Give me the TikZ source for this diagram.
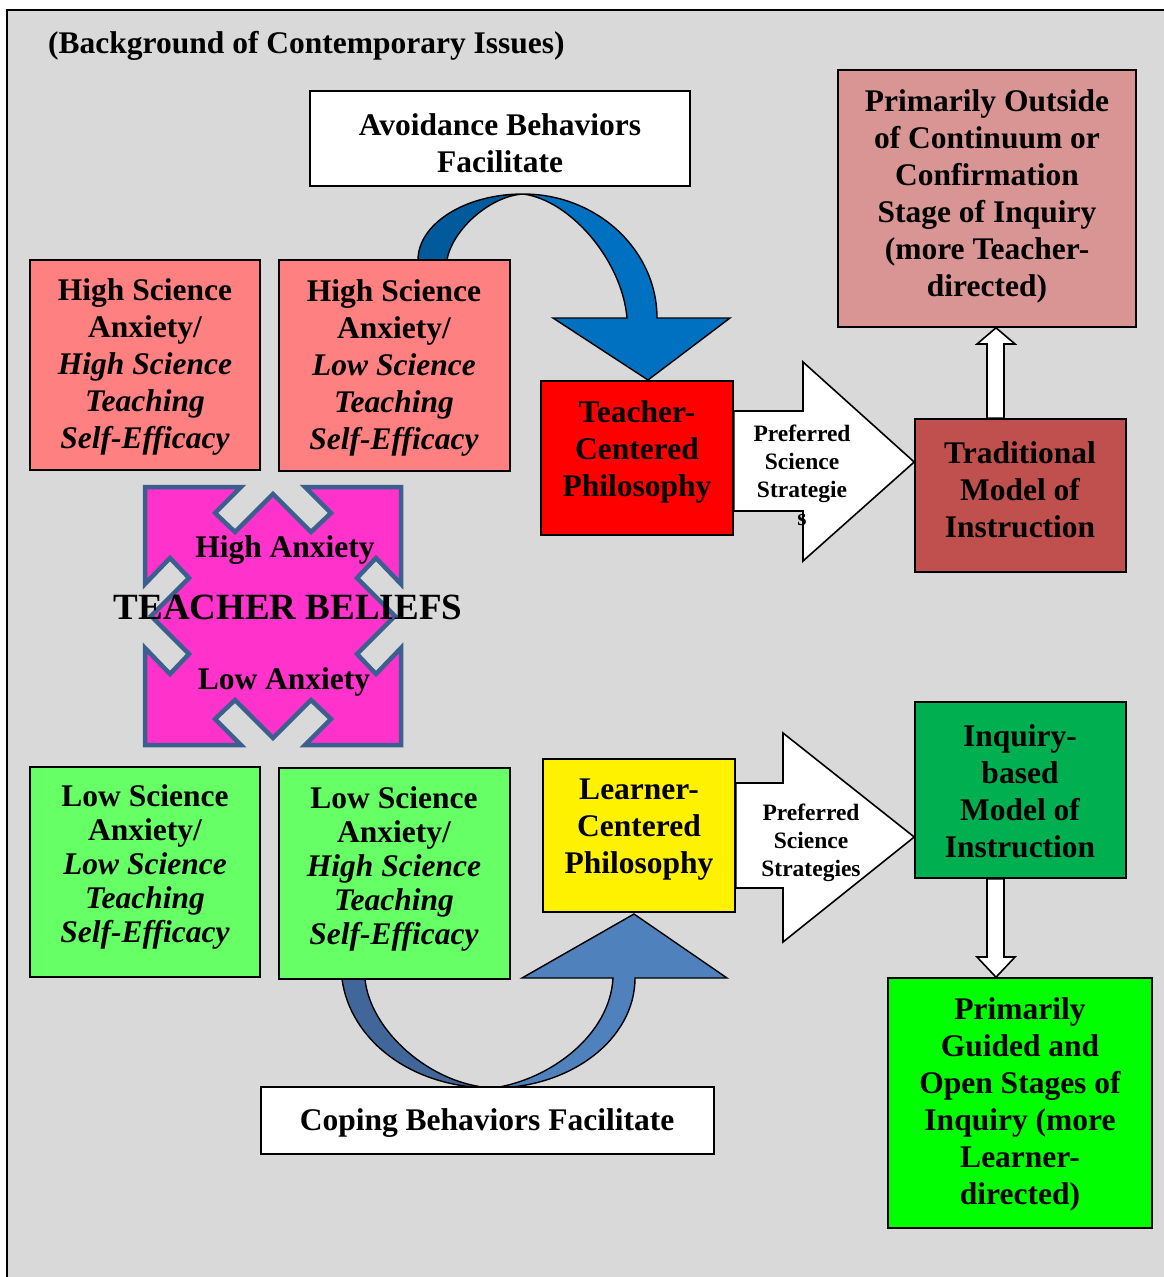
\documentclass[tikz,border=0pt]{standalone}
\usepackage{fontspec}
\setmainfont{Liberation Serif}
\usetikzlibrary{calc}

\definecolor{bggray}{HTML}{D9D9D9}
\definecolor{hspink}{HTML}{FF8080}
\definecolor{outpink}{HTML}{D99594}
\definecolor{tradred}{HTML}{C0504D}
\definecolor{quadpink}{HTML}{FF33CC}
\definecolor{quadline}{HTML}{3B6090}
\definecolor{lsgreen}{HTML}{66FF66}
\definecolor{inqgreen}{HTML}{00B050}
\definecolor{brightgreen}{HTML}{00FF00}
\definecolor{avfront}{HTML}{0070C0}
\definecolor{avback}{HTML}{005A9C}
\definecolor{cpfront}{HTML}{4F81BD}
\definecolor{cpback}{HTML}{41679A}

\begin{document}
\begin{tikzpicture}[x=1pt,y=-1pt,
  box/.style={draw=black, line width=1.6pt, rectangle, inner sep=0pt},
  lbl/.style={font=\bfseries\fontsize{31.5}{37}\selectfont, align=center, inner sep=0pt, yshift=-4pt},
  lbltight/.style={font=\bfseries\fontsize{31.5}{34}\selectfont, align=center, inner sep=0pt, yshift=-5pt},
  small/.style={font=\bfseries\fontsize{23.5}{28}\selectfont, align=center, inner sep=0pt},
  big/.style={font=\bfseries\fontsize{37}{44}\selectfont, inner sep=0pt},
  blockarrow/.style={draw=black, line width=1.6pt, fill=white, line join=miter},
  curved/.style={draw=black, line width=1.4pt}]

\useasboundingbox (0,0) rectangle (1164,1277);
\clip (0,0) rectangle (1164,1277);

% page background and frame
\fill[white] (0,0) rectangle (1164,1277);
\draw[fill=bggray, line width=2pt] (7,10) rectangle (1180,1300);

% curved arrow: avoidance behaviours (back part, then front part with head)
\draw[curved, fill=avback] (412,285) -- (418,260)
  .. controls (418,224) and (465,194) .. (523,194)
  .. controls (490,196) and (452,230) .. (447,260) -- (445,285) -- cycle;
\draw[curved, fill=avfront] (523,194)
  .. controls (597,194) and (657,250) .. (657,318)
  -- (730,318) -- (648,380) -- (553,318) -- (627,318)
  .. controls (622,260) and (570,200) .. (523,194) -- cycle;

% curved arrow: coping behaviours
\draw[curved, fill=cpback] (338,960) -- (342,979)
  .. controls (350,1039) and (410,1088) .. (493,1088)
  .. controls (430,1085) and (370,1030) .. (365,979) -- (362,960) -- cycle;
\draw[curved, fill=cpfront] (493,1088)
  .. controls (571,1088) and (635,1039) .. (635,978)
  -- (727,978) -- (634,914) -- (522,978) -- (613,978)
  .. controls (610,1035) and (550,1080) .. (493,1088) -- cycle;

% boxes
\node[box, fill=white, minimum width=380pt, minimum height=95pt] (avoid) at (500,138.5) {};
\node[box, fill=hspink, minimum width=230pt, minimum height=210pt] (hs1) at (145,365) {};
\node[box, fill=hspink, minimum width=231pt, minimum height=211pt] (hs2) at (394.5,365.5) {};
\node[box, fill=red, minimum width=192pt, minimum height=154pt] (tc) at (637,458) {};
\node[box, fill=tradred, minimum width=211pt, minimum height=153pt] (trad) at (1020.5,495.5) {};
\node[box, fill=outpink, minimum width=298pt, minimum height=257pt] (topr) at (987,198.5) {};
\node[box, fill=lsgreen, minimum width=230pt, minimum height=210pt] (ls1) at (145,872) {};
\node[box, fill=lsgreen, minimum width=231pt, minimum height=211pt] (ls2) at (394.5,873.5) {};
\node[box, fill=yellow, minimum width=192pt, minimum height=153pt] (lc) at (639,835.5) {};
\node[box, fill=inqgreen, minimum width=211pt, minimum height=176pt] (inq) at (1020.5,790) {};
\node[box, fill=brightgreen, minimum width=264pt, minimum height=250pt] (botr) at (1020,1103) {};
\node[box, fill=white, minimum width=453pt, minimum height=67pt] (coping) at (487.5,1120.5) {};

% teacher beliefs shape: square with four inward chevron notches
\coordinate (tb) at (273,616);
\begin{scope}[shift={(tb)}]
\draw[fill=quadpink, draw=quadline, line width=4.5pt, line join=miter]
  (-128,-129) -- (-32,-129) -- (-58,-103) -- (-38,-84) -- (0,-122) -- (38,-84) -- (58,-103) -- (32,-129)
  -- (128,-129) -- (128,-32) -- (103,-58) -- (84,-38) -- (122,0) -- (84,38) -- (103,58) -- (128,32)
  -- (128,129) -- (32,129) -- (58,103) -- (38,84) -- (0,122) -- (-38,84) -- (-58,103) -- (-32,129)
  -- (-128,129) -- (-128,32) -- (-103,58) -- (-84,38) -- (-122,0) -- (-84,-38) -- (-103,-58) -- (-128,-32)
  -- cycle;
\end{scope}

% block arrows between the boxes
\draw[blockarrow] (tc.east |- 0,411) -- (803,411) -- (803,362) -- (trad.west |- 0,462)
  -- (803,561) -- (803,511) -- (tc.east |- 0,511) -- cycle;
\draw[blockarrow] (lc.east |- 0,783) -- (783,783) -- (783,733) -- (inq.west |- 0,837)
  -- (783,942) -- (783,888) -- (lc.east |- 0,888) -- cycle;
\draw[blockarrow] (987,0 |- trad.north) -- (987,344) -- (977,344) -- (996,0 |- topr.south)
  -- (1015,344) -- (1004,344) -- (1004,0 |- trad.north) -- cycle;
\draw[blockarrow] (987,0 |- inq.south) -- (987,957) -- (977,957) -- (996,0 |- botr.north)
  -- (1015,957) -- (1004,957) -- (1004,0 |- inq.south) -- cycle;

% texts
\node[lbl, anchor=west] (title) at (48,42) {(Background of Contemporary Issues)};
\node[lbl] (avoidT) at (500,139.5) {Avoidance Behaviors\\Facilitate};
\node[lbl] (hs1T) at (145,363) {High Science\\Anxiety/\\\textit{High Science}\\\textit{Teaching}\\\textit{Self-Efficacy}};
\node[lbl] (hs2T) at (394,364) {High Science\\Anxiety/\\\textit{Low Science}\\\textit{Teaching}\\\textit{Self-Efficacy}};
\node[lbl] (tcT) at (637,448) {Teacher-\\Centered\\Philosophy};
\node[small] (pref1) at (802,475) {Preferred\\Science\\Strategie\\s};
\node[lbl] (tradT) at (1020,486) {Traditional\\Model of\\Instruction};
\node[lbl] (toprT) at (987,192) {Primarily Outside\\of Continuum or\\Confirmation\\Stage of Inquiry\\(more Teacher-\\directed)};
\node[lbl] (highA) at (285,546) {High Anxiety};
\node[big] (beliefs) at (288,607) {TEACHER BELIEFS};
\node[lbl] (lowA) at (284,678) {Low Anxiety};
\node[lbltight] (ls1T) at (145,862) {Low Science\\Anxiety/\\\textit{Low Science}\\\textit{Teaching}\\\textit{Self-Efficacy}};
\node[lbltight] (ls2T) at (394,864) {Low Science\\Anxiety/\\\textit{High Science}\\\textit{Teaching}\\\textit{Self-Efficacy}};
\node[lbl] (lcT) at (639,826) {Learner-\\Centered\\Philosophy};
\node[small] (pref2) at (811,843) {Preferred\\Science\\Strategies};
\node[lbl] (inqT) at (1020,787) {Inquiry-\\based\\Model of\\Instruction};
\node[lbl] (botrT) at (1020,1100) {Primarily\\Guided and\\Open Stages of\\Inquiry (more\\Learner-\\directed)};
\node[lbl] (copingT) at (487,1119) {Coping Behaviors Facilitate};
\end{tikzpicture}
\end{document}
